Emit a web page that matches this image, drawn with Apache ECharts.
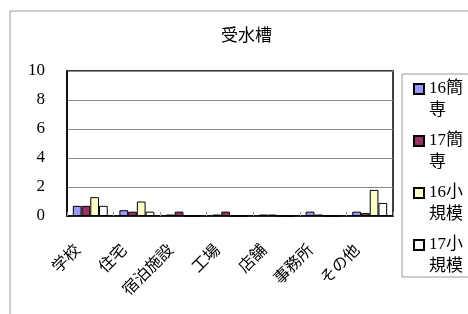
<!DOCTYPE html>
<html>
<head>
<meta charset="utf-8">
<script src="https://cdn.jsdelivr.net/npm/echarts@6/dist/echarts.min.js"></script>
<style>
  html, body { margin: 0; padding: 0; background: #fff; }
  #chart { width: 468px; height: 314px; }
</style>
</head>
<body>
<div id="chart"></div>
<script>
// データ
var categories = ['学校', '住宅', '宿泊施設', '工場', '店舗', '事務所', 'その他'];
var seriesNames = ['16簡専', '17簡専', '16小規模', '17小規模'];
var v16kan = [0.7, 0.4, 0.1, 0.1, 0.1, 0.3, 0.3];
var v17kan = [0.7, 0.3, 0.3, 0.3, 0.1, 0.1, 0.2];
var v16sho = [1.3, 1.0, 0, 0, 0, 0, 1.8];
var v17sho = [0.7, 0.3, 0, 0, 0, 0, 0.9];
var yTicks = [0, 2, 4, 6, 8, 10];

var font = '"Liberation Serif", "Noto Sans CJK JP", serif';
var colors = ['#9999ff', '#993366', '#ffffcc', '#ffffff'];
var values = [v16kan, v17kan, v16sho, v17sho];

var myChart = echarts.init(document.getElementById('chart'));

var series = seriesNames.map(function (name, i) {
  return {
    name: name,
    type: 'bar',
    data: values[i],
    barGap: '0%',
    barCategoryGap: '25%',
    itemStyle: { color: colors[i], borderColor: '#000', borderWidth: 1 }
  };
});

myChart.setOption({
  animation: false,
  title: {
    text: '受水槽',
    left: 216,
    top: 23,
    textStyle: { fontFamily: font, fontSize: 17, fontWeight: 'normal', color: '#000' }
  },
  graphic: [
    // 外枠
    { type: 'rect', shape: { x: 10, y: 11, width: 520, height: 400 },
      style: { fill: 'none', stroke: '#999', lineWidth: 1 }, z: -1 },
    // 凡例の枠
    { type: 'rect', shape: { x: 402, y: 74, width: 120, height: 203 },
      style: { fill: 'none', stroke: '#999', lineWidth: 1 }, z: -1 }
  ],
  legend: {
    orient: 'vertical',
    left: 408,
    top: 51,
    height: 260,
    itemWidth: 10,
    itemHeight: 10,
    itemGap: -14,
    icon: 'rect',
    data: seriesNames,
    // 1行目を空けて、マーカーを1行目に揃える
    formatter: function (name) {
      return ' \n' + name.slice(0, 3) + '\n' + name.slice(3);
    },
    textStyle: { fontFamily: font, fontSize: 17, lineHeight: 22, color: '#000' }
  },
  grid: {
    left: 67,
    top: 71,
    width: 326,
    height: 145,
    show: true,
    borderColor: '#000',
    borderWidth: 1.5
  },
  xAxis: {
    type: 'category',
    data: categories,
    axisLine: { lineStyle: { color: '#000', width: 1.5 } },
    axisTick: { show: true, inside: true, length: 4, lineStyle: { color: '#999' } },
    axisLabel: {
      rotate: 45,
      margin: 20,
      padding: [0, 17, 0, 0],
      fontFamily: font,
      fontSize: 16,
      color: '#000'
    }
  },
  yAxis: {
    type: 'value',
    min: yTicks[0],
    max: yTicks[yTicks.length - 1],
    interval: 2,
    axisLine: { show: true, lineStyle: { color: '#000', width: 1.5 } },
    axisTick: { show: false },
    splitLine: { lineStyle: { color: '#888', width: 1 } },
    axisLabel: { margin: 22, fontFamily: font, fontSize: 17, color: '#000' }
  },
  series: series
});
window.onresize = myChart.resize;
</script>
</body>
</html>
